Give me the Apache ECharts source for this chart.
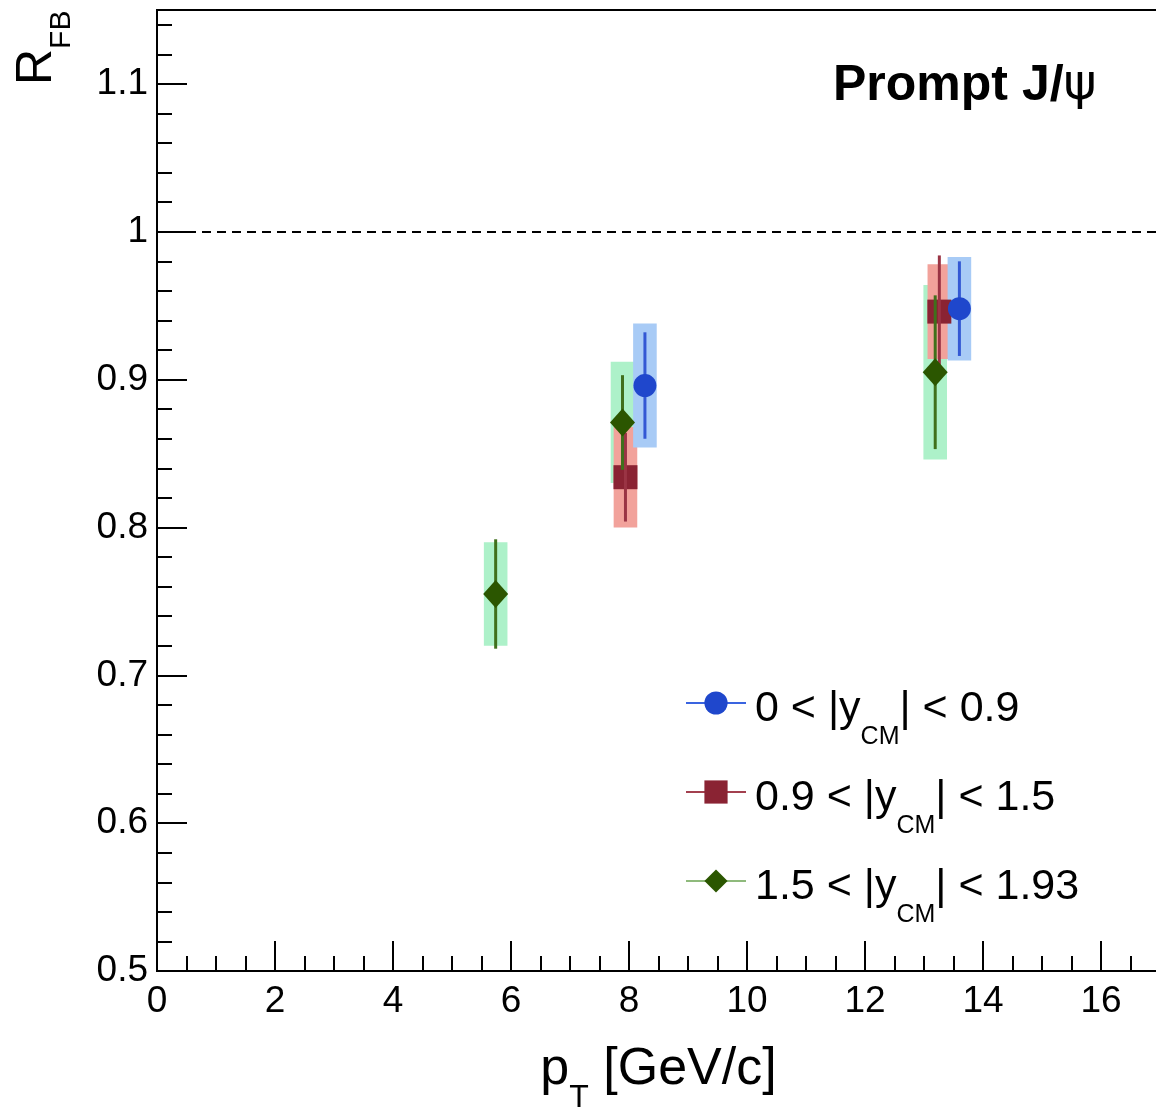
<!DOCTYPE html>
<html>
<head>
<meta charset="utf-8">
<script src="https://cdn.jsdelivr.net/npm/echarts@6/dist/echarts.min.js"></script>
<style>
    html, body { margin: 0; padding: 0; background: #fff; }
    #chart { width: 1156px; height: 1109px; }
</style>
</head>
<body>
<div id="chart"></div>
<script>
    // 0 < |y_CM| < 0.9
    const ptBlue = [8.27, 13.6];
    const rfbBlue = [0.896, 0.948];
    const statBlue = [0.036, 0.032];
    const sysBlue = [0.042, 0.035];
    // 0.9 < |y_CM| < 1.5
    const ptRed = [7.94, 13.26];
    const rfbRed = [0.834, 0.946];
    const statRed = [0.030, 0.038];
    const sysRed = [0.034, 0.032];
    // 1.5 < |y_CM| < 1.93
    const ptGreen = [5.74, 7.89, 13.19];
    const rfbGreen = [0.755, 0.871, 0.905];
    const statGreen = [0.037, 0.032, 0.052];
    const sysGreen = [0.035, 0.041, 0.059];

    const rapLow = ['0', '0.9', '1.5'];
    const rapHigh = ['0.9', '1.5', '1.93'];
    const names = rapLow.map((lo, i) => lo + ' < |y_CM| < ' + rapHigh[i]);

    const FONT = 'Liberation Sans, Arial, Helvetica, sans-serif';
    const black = '#000';

    const markerColor = ['#1f47cc', '#8a2333', '#2b5600'];
    const statColor = ['#3358d4', '#9a3444', '#40701c'];
    const boxColor = ['#a8cbf6', '#f2a29b', '#adf1c9'];
    const legendLine = ['#3a64e0', '#a3404f', '#8fba7c'];

    function pack(xs, ys, st, sy) {
        return xs.map((x, i) => [x, ys[i], st[i], sy[i]]);
    }
    const groups = [
        pack(ptBlue, rfbBlue, statBlue, sysBlue),
        pack(ptRed, rfbRed, statRed, sysRed),
        pack(ptGreen, rfbGreen, statGreen, sysGreen)
    ];

    function boxItem(color) {
        return function (params, api) {
            const x = api.value(0), y = api.value(1), s = api.value(3);
            const p0 = api.coord([x - 0.2, y + s]);
            const p1 = api.coord([x + 0.2, y - s]);
            return {
                type: 'rect',
                shape: {x: p0[0], y: p0[1], width: p1[0] - p0[0], height: p1[1] - p0[1]},
                style: {fill: color}
            };
        };
    }
    function statItem(color) {
        return function (params, api) {
            const x = api.value(0), y = api.value(1), e = api.value(2);
            const p0 = api.coord([x, y + e]);
            const p1 = api.coord([x, y - e]);
            return {
                type: 'line',
                shape: {x1: p0[0], y1: p0[1], x2: p1[0], y2: p1[1]},
                style: {stroke: color, lineWidth: 3}
            };
        };
    }

    const symbols = ['circle', 'rect', 'diamond'];
    const symbolSizes = [23, 24, [25, 28]];
    const markerZ = [5, 3, 5];

    const series = [];
    // markers first so that the legend picks these up
    groups.forEach((data, i) => {
        series.push({
            name: names[i],
            type: 'line',
            data: data.map(d => [d[0], d[1]]),
            symbol: symbols[i],
            symbolSize: symbolSizes[i],
            showSymbol: true,
            showAllSymbol: true,
            lineStyle: {width: 0},
            itemStyle: {color: markerColor[i]},
            color: markerColor[i],
            z: markerZ[i],
            emphasis: {disabled: true}
        });
    });
    // systematic boxes: green, red, blue (red over green)
    [2, 1, 0].forEach(i => {
        series.push({
            name: 'sys' + i,
            type: 'custom',
            renderItem: boxItem(boxColor[i]),
            data: groups[i],
            encode: {x: 0, y: 1},
            z: 1,
            silent: true
        });
    });
    groups.forEach((data, i) => {
        series.push({
            name: 'stat' + i,
            type: 'custom',
            renderItem: statItem(statColor[i]),
            data: data,
            encode: {x: 0, y: 1},
            z: 4,
            silent: true
        });
    });
    // dashed reference line at 1
    series[0].markLine = {
        silent: true,
        symbol: 'none',
        label: {show: false},
        lineStyle: {color: black, width: 2, type: [9, 6]},
        data: [{yAxis: 1}]
    };

    const mainRich = {
        a0: {fontSize: 43, lineHeight: 60, padding: [15, 0, 0, 4], verticalAlign: 'top', fontFamily: FONT, color: black},
        a: {fontSize: 43, lineHeight: 60, padding: [15, 0, 0, 0], verticalAlign: 'top', fontFamily: FONT, color: black},
        s: {fontSize: 25, lineHeight: 1, padding: [52, 0, 0, 0], verticalAlign: 'top', fontFamily: FONT, color: black}
    };

    const option = {
        animation: false,
        backgroundColor: '#fff',
        grid: {
            left: 157, right: -4, top: 10, bottom: 138,
            outerBoundsMode: 'none',
            containLabel: false,
            show: true, borderColor: black, borderWidth: 2, backgroundColor: 'transparent'
        },
        xAxis: [{
            type: 'value', position: 'bottom',
            min: 0, max: 17, interval: 2,
            axisLine: {show: true, onZero: false, lineStyle: {color: black, width: 2}},
            axisTick: {show: true, inside: true, length: 30, lineStyle: {color: black, width: 2}},
            axisLabel: {show: true, margin: 12, fontSize: 37, color: black, fontFamily: FONT,
                showMaxLabel: false},
            splitLine: {show: false},
            name: '{p|p}{t|T}{p| [GeV/c]}',
            nameLocation: 'middle',
            nameGap: 73,
            nameTextStyle: {
                rich: {
                    p: {fontSize: 52, lineHeight: 60, verticalAlign: 'top', fontFamily: FONT, color: black},
                    t: {fontSize: 32, lineHeight: 1, padding: [38, 0, 0, 0], verticalAlign: 'top', fontFamily: FONT, color: black}
                }
            }
        }, {
            type: 'value', position: 'bottom',
            min: 0, max: 17, interval: 0.5,
            axisLine: {show: false},
            axisTick: {show: true, inside: true, length: 15, lineStyle: {color: black, width: 2}},
            axisLabel: {show: false},
            splitLine: {show: false}
        }],
        yAxis: [{
            type: 'value', position: 'left',
            min: 0.5, max: 1.15, interval: 0.1,
            axisLine: {show: true, onZero: false, lineStyle: {color: black, width: 2}},
            axisTick: {show: true, inside: true, length: 30, lineStyle: {color: black, width: 2}},
            axisLabel: {show: true, margin: 9, fontSize: 37, color: black, fontFamily: FONT,
                showMaxLabel: false},
            splitLine: {show: false}
        }, {
            type: 'value', position: 'left',
            min: 0.5, max: 1.15, interval: 0.02,
            axisLine: {show: false},
            axisTick: {show: true, inside: true, length: 15, lineStyle: {color: black, width: 2}},
            axisLabel: {show: false},
            splitLine: {show: false}
        }],
        legend: {
            orient: 'vertical',
            left: 685,
            top: 673,
            padding: 0,
            itemGap: 12,
            itemWidth: 60,
            itemHeight: 29,
            selectedMode: false,
            lineStyle: {width: 2},
            data: names.map((n, i) => ({name: n, lineStyle: {color: legendLine[i], width: 2}})),
            formatter: function (name) {
                const i = names.indexOf(name);
                return '{a0|' + rapLow[i] + ' < |y}{s|CM}{a|| < ' + rapHigh[i] + '}';
            },
            textStyle: {rich: mainRich}
        },
        graphic: [{
            type: 'text',
            x: 833, y: 86,
            style: {
                text: '{b|Prompt J/}{p|ψ}',
                verticalAlign: 'middle',
                align: 'left',
                rich: {
                    b: {fontSize: 50, fontWeight: 'bold', fontFamily: FONT, fill: black},
                    p: {fontSize: 50, fontWeight: 'normal', fontFamily: 'DejaVu Sans, ' + FONT, fill: black}
                }
            }
        }, {
            type: 'text',
            x: 12.7, y: 85,
            rotation: Math.PI / 2,
            style: {
                text: '{r|R}{f|FB}',
                align: 'left',
                verticalAlign: 'top',
                rich: {
                    r: {fontSize: 50, lineHeight: 50, verticalAlign: 'top', fontFamily: FONT, fill: black},
                    f: {fontSize: 30, lineHeight: 1, padding: [34, 0, 0, 0], verticalAlign: 'top', fontFamily: FONT, fill: black}
                }
            }
        }],
        series: series
    };

    const chart = echarts.init(document.getElementById('chart'));
    chart.setOption(option);
</script>
</body>
</html>
